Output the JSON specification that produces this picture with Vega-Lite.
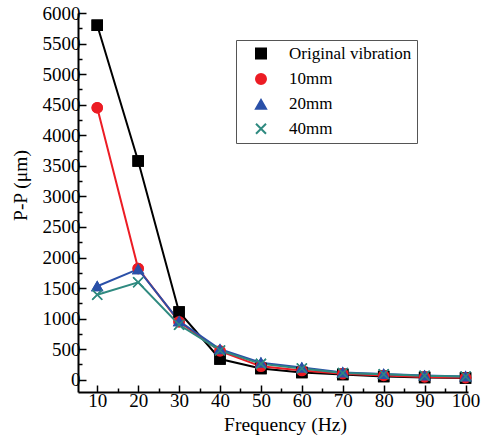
{
  "$schema": "https://vega.github.io/schema/vega-lite/v6.json",
  "width": 390,
  "height": 379,
  "autosize": "none",
  "padding": {"left": 78, "top": 13, "right": 13, "bottom": 49},
  "background": "white",
  "config": {
    "view": {"stroke": null},
    "font": "Liberation Serif",
    "axis": {
      "labelFont": "Liberation Serif",
      "labelFontSize": 19,
      "labelColor": "black",
      "titleFont": "Liberation Serif",
      "titleFontSize": 19.5,
      "titleFontWeight": "normal",
      "titleColor": "black",
      "domainColor": "black",
      "domainWidth": 2,
      "tickColor": "black",
      "tickWidth": 1.5,
      "grid": false
    },
    "legend": {
      "orient": "none",
      "legendX": 158,
      "legendY": 27,
      "padding": 5,
      "strokeColor": "#555555",
      "symbolSize": 100,
      "symbolStrokeWidth": 2,
      "symbolOffset": 11.5,
      "rowPadding": 6.4,
      "labelOffset": 19.5,
      "labelFont": "Liberation Serif",
      "labelFontSize": 17,
      "labelColor": "black",
      "labelLimit": 300
    }
  },
  "data": {
    "values": [
      {"freq": 10, "pp": 5800, "series": "Original vibration"},
      {"freq": 20, "pp": 3580, "series": "Original vibration"},
      {"freq": 30, "pp": 1110, "series": "Original vibration"},
      {"freq": 40, "pp": 340, "series": "Original vibration"},
      {"freq": 50, "pp": 185, "series": "Original vibration"},
      {"freq": 60, "pp": 120, "series": "Original vibration"},
      {"freq": 70, "pp": 85, "series": "Original vibration"},
      {"freq": 80, "pp": 55, "series": "Original vibration"},
      {"freq": 90, "pp": 38, "series": "Original vibration"},
      {"freq": 100, "pp": 28, "series": "Original vibration"},
      {"freq": 10, "pp": 4450, "series": "10mm"},
      {"freq": 20, "pp": 1820, "series": "10mm"},
      {"freq": 30, "pp": 950, "series": "10mm"},
      {"freq": 40, "pp": 470, "series": "10mm"},
      {"freq": 50, "pp": 220, "series": "10mm"},
      {"freq": 60, "pp": 150, "series": "10mm"},
      {"freq": 70, "pp": 100, "series": "10mm"},
      {"freq": 80, "pp": 70, "series": "10mm"},
      {"freq": 90, "pp": 45, "series": "10mm"},
      {"freq": 100, "pp": 35, "series": "10mm"},
      {"freq": 10, "pp": 1530, "series": "20mm"},
      {"freq": 20, "pp": 1810, "series": "20mm"},
      {"freq": 30, "pp": 960, "series": "20mm"},
      {"freq": 40, "pp": 500, "series": "20mm"},
      {"freq": 50, "pp": 280, "series": "20mm"},
      {"freq": 60, "pp": 200, "series": "20mm"},
      {"freq": 70, "pp": 120, "series": "20mm"},
      {"freq": 80, "pp": 95, "series": "20mm"},
      {"freq": 90, "pp": 70, "series": "20mm"},
      {"freq": 100, "pp": 55, "series": "20mm"},
      {"freq": 10, "pp": 1390, "series": "40mm"},
      {"freq": 20, "pp": 1595, "series": "40mm"},
      {"freq": 30, "pp": 900, "series": "40mm"},
      {"freq": 40, "pp": 480, "series": "40mm"},
      {"freq": 50, "pp": 260, "series": "40mm"},
      {"freq": 60, "pp": 185, "series": "40mm"},
      {"freq": 70, "pp": 110, "series": "40mm"},
      {"freq": 80, "pp": 90, "series": "40mm"},
      {"freq": 90, "pp": 65, "series": "40mm"},
      {"freq": 100, "pp": 55, "series": "40mm"}
    ]
  },
  "layer": [
    {
      "mark": {"type": "point", "filled": true, "strokeWidth": 1.5, "opacity": 1},
      "encoding": {
        "x": {
          "field": "freq", "type": "quantitative",
          "scale": {"domain": [5.3, 100.6], "nice": false, "zero": false},
          "axis": {
            "orient": "bottom",
            "values": [15, 25, 35, 45, 55, 65, 75, 85, 95],
            "tickSize": -4,
            "labels": false,
            "domain": false,
            "title": null
          }
        },
        "y": {
          "field": "pp", "type": "quantitative",
          "scale": {"domain": [-200, 6000], "nice": false, "zero": false},
          "axis": {
            "orient": "left",
            "values": [250, 750, 1250, 1750, 2250, 2750, 3250, 3750, 4250, 4750, 5250, 5750],
            "tickSize": -4,
            "labels": false,
            "domain": false,
            "title": null
          }
        },
        "fill": {
          "field": "series", "type": "nominal",
          "scale": {
            "domain": ["Original vibration", "10mm", "20mm", "40mm"],
            "range": ["#000000", "#ec1c24", "#2a50a8", "#2f8a80"]
          },
          "legend": {
            "title": null,
            "encode": {
              "symbols": {
                "shape": {
                  "condition": [
                    {"test": "datum.value === 'Original vibration'", "value": "M-4,0H4M-1,-1H1V1H-1Z"},
                    {"test": "datum.value === '10mm'", "value": "M-4,0H4M-1.1,0A1.1,1.1,0,1,1,1.1,0A1.1,1.1,0,1,1,-1.1,0Z"},
                    {"test": "datum.value === '20mm'", "value": "M-4,0H4M0,-1.25L1.25,0.9L-1.25,0.9Z"}
                  ],
                  "value": "M-4,0H4M-1.1,-1.1L1.1,1.1M-1.1,1.1L1.1,-1.1"
                }
              }
            }
          }
        },
        "stroke": {
          "field": "series", "type": "nominal",
          "scale": {
            "domain": ["Original vibration", "10mm", "20mm", "40mm"],
            "range": ["#000000", "#ec1c24", "#2a50a8", "#2f8a80"]
          },
          "legend": {
            "title": null,
            "encode": {
              "symbols": {
                "shape": {
                  "condition": [
                    {"test": "datum.value === 'Original vibration'", "value": "M-4,0H4M-1,-1H1V1H-1Z"},
                    {"test": "datum.value === '10mm'", "value": "M-4,0H4M-1.1,0A1.1,1.1,0,1,1,1.1,0A1.1,1.1,0,1,1,-1.1,0Z"},
                    {"test": "datum.value === '20mm'", "value": "M-4,0H4M0,-1.25L1.25,0.9L-1.25,0.9Z"}
                  ],
                  "value": "M-4,0H4M-1.1,-1.1L1.1,1.1M-1.1,1.1L1.1,-1.1"
                }
              }
            }
          }
        },
        "shape": {
          "field": "series", "type": "nominal",
          "scale": {
            "domain": ["Original vibration", "10mm", "20mm", "40mm"],
            "range": ["square", "circle", "triangle-up", "M-1,-1L1,1M-1,1L1,-1"]
          },
          "legend": {
            "title": null,
            "encode": {
              "symbols": {
                "shape": {
                  "condition": [
                    {"test": "datum.value === 'Original vibration'", "value": "M-4,0H4M-1,-1H1V1H-1Z"},
                    {"test": "datum.value === '10mm'", "value": "M-4,0H4M-1.1,0A1.1,1.1,0,1,1,1.1,0A1.1,1.1,0,1,1,-1.1,0Z"},
                    {"test": "datum.value === '20mm'", "value": "M-4,0H4M0,-1.25L1.25,0.9L-1.25,0.9Z"}
                  ],
                  "value": "M-4,0H4M-1.1,-1.1L1.1,1.1M-1.1,1.1L1.1,-1.1"
                }
              }
            }
          }
        },
        "size": {"value": 100}
      }
    },
    {
      "mark": {"type": "line", "strokeWidth": 2},
      "encoding": {
        "x": {
          "field": "freq", "type": "quantitative",
          "axis": {
            "orient": "bottom",
            "values": [10, 20, 30, 40, 50, 60, 70, 80, 90, 100],
            "tickSize": -7,
            "labelPadding": 6,
            "title": "Frequency (Hz)",
            "titlePadding": 5,
            "titleX": 207
          }
        },
        "y": {
          "field": "pp", "type": "quantitative",
          "axis": {
            "orient": "left",
            "format": "d",
            "values": [0, 500, 1000, 1500, 2000, 2500, 3000, 3500, 4000, 4500, 5000, 5500, 6000],
            "tickSize": -8,
            "labelPadding": 6,
            "title": "P-P (μm)",
            "titlePadding": 12,
            "titleY": 172
          }
        },
        "stroke": {
          "field": "series", "type": "nominal",
          "legend": {"title": null}
        }
      }
    },
    {
      "mark": {"type": "point", "filled": true, "strokeWidth": 1.5, "opacity": 1},
      "encoding": {
        "x": {"field": "freq", "type": "quantitative", "axis": null},
        "y": {"field": "pp", "type": "quantitative", "axis": null},
        "fill": {"field": "series", "type": "nominal", "legend": {"title": null}},
        "stroke": {"field": "series", "type": "nominal", "legend": {"title": null}},
        "shape": {"field": "series", "type": "nominal", "legend": {"title": null}},
        "size": {"value": 100}
      }
    }
  ],
  "resolve": {"axis": {"x": "independent", "y": "independent"}}
}
